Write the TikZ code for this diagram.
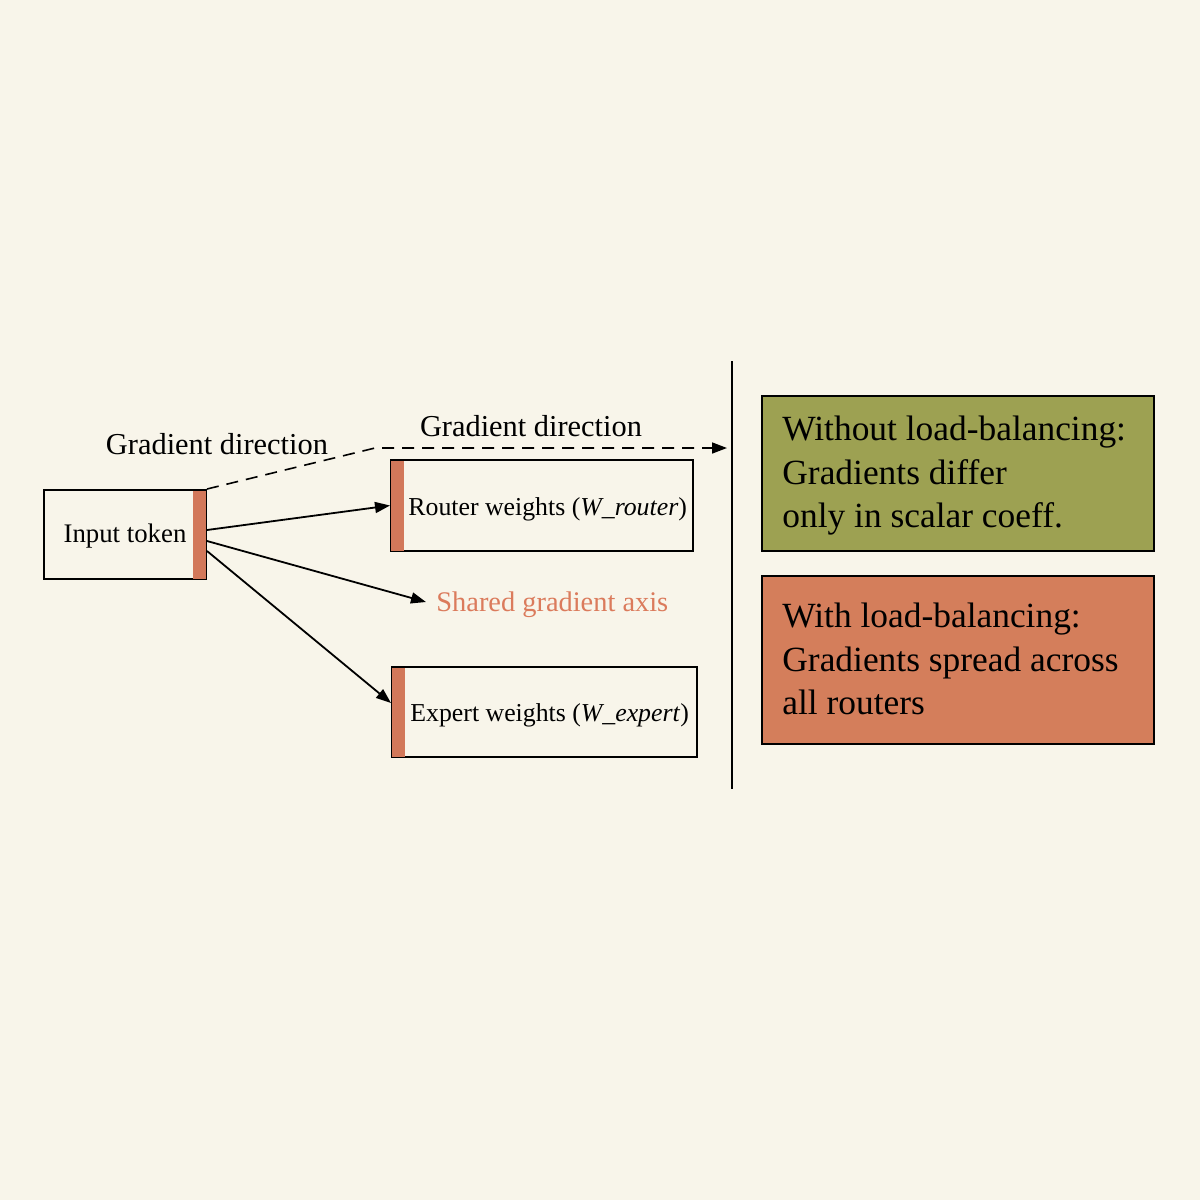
\documentclass[tikz,border=0pt]{standalone}
\usepackage{fontspec}
\setmainfont{Liberation Serif}
\usetikzlibrary{arrows.meta}
\definecolor{bg}{HTML}{F8F5EA}
\definecolor{barc}{HTML}{D2785A}
\definecolor{olivebox}{HTML}{9DA152}
\definecolor{coralbox}{HTML}{D47E5B}
\definecolor{redtext}{HTML}{DB7B5C}
\begin{document}
\begin{tikzpicture}[x=0.5pt,y=-0.5pt,
  wbox/.style={draw=black, line width=1pt, inner sep=0pt},
  txt/.style={inner sep=0pt, anchor=west},
  arr/.style={line width=0.9pt, -{Triangle[length=7.5pt,width=5.5pt]}},
  grad/.style={font=\fontsize{15.2}{18}\selectfont},
  infotxt/.style={inner sep=0pt, anchor=west, align=left, font=\fontsize{17.7}{21.75}\selectfont}
]
\fill[bg] (0,0) rectangle (1200,1200);
\useasboundingbox (0,0) rectangle (1200,1200);

% left boxes
\node[wbox, minimum width=81pt, minimum height=44.5pt] (inp) at (125,534.5) {};
\fill[barc] (193,491) rectangle (206,579);
\node[inner sep=0pt, font=\fontsize{13.4}{16}\selectfont] (inptxt) at (125,536) {Input token};

\node[wbox, minimum width=151pt, minimum height=45.5pt] (rt) at (542,505.5) {};
\fill[barc] (391,461) rectangle (404,551);
\node[txt, font=\fontsize{12.9}{16}\selectfont] (rttxt) at (408,509) {Router weights (\textit{W\_router})};

\node[wbox, minimum width=152.5pt, minimum height=45pt] (ex) at (544.5,712) {};
\fill[barc] (392,668) rectangle (405,757);
\node[txt, font=\fontsize{12.9}{16}\selectfont] (extxt) at (410,715) {Expert weights (\textit{W\_expert})};

\node[inner sep=5pt, anchor=west, text=redtext, font=\fontsize{14.2}{17}\selectfont] (shared) at (426,605) {Shared gradient axis};

% arrows
\draw[arr] ([yshift=2.25pt]inp.east) -- (rt.west);
\draw[arr] ([yshift=-3.25pt]inp.east) -- ([yshift=1.5pt]shared.west);
\draw[arr] ([yshift=-8.25pt]inp.east) -- ([yshift=4.5pt]ex.west);

% dashed gradient direction
\coordinate (kink) at (375,448);
\coordinate (dend) at (727,448);
\draw[line width=0.8pt, dash pattern=on 6pt off 4pt, -{Triangle[length=7.5pt,width=5.5pt]}] (inp.north east) -- (kink) -- (dend);
\node[grad, inner sep=0pt] (g1) at (217,444) {Gradient direction};
\node[grad, inner sep=0pt] (g2) at (531,426) {Gradient direction};

% divider
\coordinate (vt) at (732,361);
\coordinate (vb) at (732,789);
\draw[line width=1pt] (vt) -- (vb);

% right boxes
\node[wbox, fill=olivebox, minimum width=196pt, minimum height=77.5pt] (gbox) at (958,473.5) {};
\node[infotxt] (gtxt) at (782,476) {Without load-balancing:\\Gradients differ\\only in scalar coeff.};
\node[wbox, fill=coralbox, minimum width=196pt, minimum height=84pt] (cbox) at (958,660) {};
\node[infotxt] (ctxt) at (782,659) {With load-balancing:\\Gradients spread across\\all routers};
\end{tikzpicture}
\end{document}
